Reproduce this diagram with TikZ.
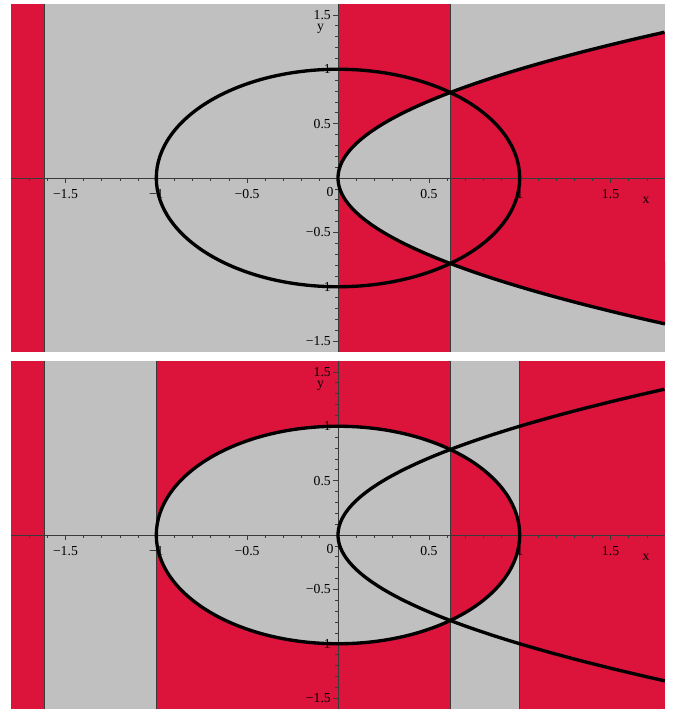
\documentclass[tikz,border=0pt]{standalone}
\usepackage{fontspec}
\setmainfont{Liberation Serif}
\usetikzlibrary{positioning}
\definecolor{crimson}  {HTML}{DC143C}
\definecolor{silver}   {HTML}{C0C0C0}
\definecolor{axisgrey} {HTML}{3A3A3A}
\newcommand{\xcut}{0.6180}
\newcommand{\ycut}{0.7862}
\newcommand{\xneg}{1.6180}
\newcommand{\yend}{1.3416}
\tikzset{
  bg/.style    ={fill=silver},
  reg/.style   ={fill=crimson},
  sep/.style   ={draw=axisgrey, line width=0.5pt},
  axis/.style  ={draw=axisgrey, line width=0.5pt},
  tick/.style  ={draw=axisgrey, line width=0.4pt},
  curve/.style ={draw=black, line width=1.9pt, line join=round},
  lbl/.style   ={font=\fontsize{7.8}{9}\selectfont, inner sep=0.6pt},
  panel/.style ={x=3.634cm, y=2.175cm}
}
% axes, ticks and tick labels of one panel; #1 prefixes the node names
\newcommand{\plotaxes}[1]{%
  \draw[axis] (-1.8,0) -- (1.8,0);
  \draw[axis] (0,-1.6) -- (0,1.6);
  \foreach \i in {-17,...,17} {\draw[tick] (\i/10,0) -- ++(0,-0.03);}
  \foreach \i in {-3,...,3}   {\draw[tick] (\i/2,0) -- ++(0,-0.05);}
  \foreach \i in {-15,...,15} {\draw[tick] (0,\i/10) -- ++(-0.018,0);}
  \foreach \i in {-3,...,3}   {\draw[tick] (0,\i/2) -- ++(-0.03,0);}
  \foreach \v/\t [count=\k] in {-1.5/−1.5,-1/−1,-0.5/−0.5,0.5/0.5,1/1,1.5/1.5}{
    \node[lbl] (#1x\k) at (\v,-0.15) {\t};
    \node[lbl, anchor=east] (#1y\k) at (-0.032,\v) {\t};}
  \node[lbl] (#1zero)  at (-0.044,-0.126) {0};
  \node[lbl] (#1xname) at (1.695,-0.21)   {x};
  \node[lbl, below=1.2pt of #1y6.south, xshift=-1pt] (#1yname) {y};
}

\begin{document}
\begin{tikzpicture}
\useasboundingbox (0,0) rectangle (13.54,14.22);
\fill[white] (0,0) rectangle (13.54,14.22);

% upper panel: strips x < -1.618, 0 < x < 0.618, and the parabola beyond
\begin{scope}[panel, shift={(6.76cm,10.66cm)}]
  \clip (-1.8,-1.6) rectangle (1.8,1.6);
  \fill[bg]  (-1.8,-1.6) rectangle (1.8,1.6);
  \fill[reg] (-1.8,-1.6) rectangle (-\xneg,1.6);
  \fill[reg] (0,-1.6) rectangle (\xcut,1.6);
  \fill[bg]  plot[domain=-\ycut:\ycut, samples=40, smooth] ({(\x)^2},\x) -- cycle;
  \begin{scope}
    \clip (\xcut,-1.6) rectangle (1.8,1.6);
    \fill[reg] plot[domain=-\yend:\yend, samples=60, smooth] ({(\x)^2},\x) -- cycle;
  \end{scope}
  \draw[sep] (-\xneg,-1.6) -- (-\xneg,1.6);
  \draw[sep] (\xcut,-1.6) -- (\xcut,1.6);
  \plotaxes{a}
  \draw[curve] (0,0) circle (1);
  \draw[curve] plot[domain=-\yend:\yend, samples=80, smooth] ({(\x)^2},\x);
\end{scope}

% lower panel: the circle splits the strips between -1 and 1
\begin{scope}[panel, shift={(6.76cm,3.52cm)}]
  \clip (-1.8,-1.6) rectangle (1.8,1.6);
  \fill[bg]  (-1.8,-1.6) rectangle (1.8,1.6);
  \fill[reg] (-1.8,-1.6) rectangle (-\xneg,1.6);
  \fill[reg] (-1,-1.6) rectangle (\xcut,1.6);
  \fill[reg] (1,-1.6) rectangle (1.8,1.6);
  \begin{scope}
    \clip (-1,-1.6) rectangle (\xcut,1.6);
    \fill[bg] (0,0) circle (1);
  \end{scope}
  \begin{scope}
    \clip (\xcut,-1.6) rectangle (1,1.6);
    \fill[reg] (0,0) circle (1);
  \end{scope}
  \foreach \s in {-\xneg,-1,\xcut,1} {\draw[sep] (\s,-1.6) -- (\s,1.6);}
  \plotaxes{b}
  \draw[curve] (0,0) circle (1);
  \draw[curve] plot[domain=-\yend:\yend, samples=80, smooth] ({(\x)^2},\x);
\end{scope}
\end{tikzpicture}
\end{document}
